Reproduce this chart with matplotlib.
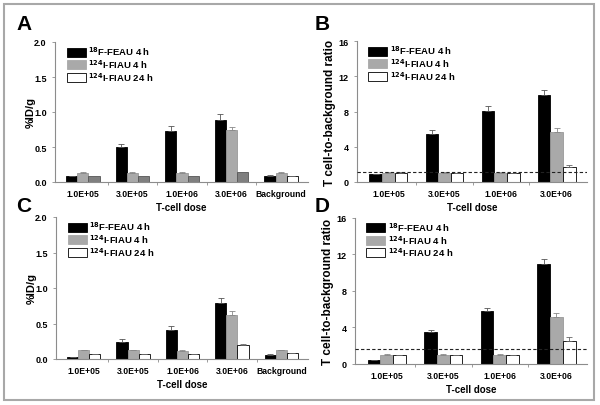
"""four-panel T-cell dose bar chart (%ID/g and T cell-to-background ratio)"""

import numpy as np
import matplotlib
matplotlib.use('Agg')
import matplotlib.pyplot as plt
from matplotlib.patches import Rectangle, Patch

plt.rcParams['font.family'] = ['Liberation Sans', 'DejaVu Sans']
plt.rcParams['font.weight'] = 'bold'
plt.rcParams['mathtext.default'] = 'bf'

doses = ['1.0E+05', '3.0E+05', '1.0E+06', '3.0E+06']
doses_bg = doses + ['Background']
series = [r'$^{18}$F-FEAU 4 h', r'$^{124}$I-FIAU 4 h', r'$^{124}$I-FIAU 24 h']

# panel A, %ID/g
a_feau = [0.08, 0.50, 0.73, 0.89, 0.085]
a_feau_err = [0.01, 0.05, 0.07, 0.08, 0.01]
a_fiau4 = [0.13, 0.13, 0.13, 0.74, 0.13]
a_fiau4_err = [0.01, 0.01, 0.01, 0.05, 0.01]
a_fiau24 = [0.08, 0.08, 0.08, 0.14, 0.08]
a_fiau24_err = [0.01, 0.01, 0.01, 0.01, 0.01]

# panel B, ratio
b_feau = [0.9, 5.5, 8.1, 9.85]
b_feau_err = [0.05, 0.38, 0.5, 0.55]
b_fiau4 = [1.05, 1.05, 1.05, 5.7]
b_fiau4_err = [0.05, 0.05, 0.05, 0.4]
b_fiau24 = [1.05, 1.0, 1.0, 1.75]
b_fiau24_err = [0.05, 0.05, 0.05, 0.15]
b_cutoff = 1.15

# panel C, %ID/g
c_feau = [0.025, 0.245, 0.41, 0.785, 0.06]
c_feau_err = [0.005, 0.035, 0.05, 0.075, 0.01]
c_fiau4 = [0.12, 0.12, 0.115, 0.62, 0.12]
c_fiau4_err = [0.01, 0.01, 0.01, 0.06, 0.01]
c_fiau24 = [0.07, 0.07, 0.07, 0.20, 0.08]
c_fiau24_err = [0.005, 0.005, 0.005, 0.01, 0.005]

# panel D, ratio
d_feau = [0.4, 3.5, 5.75, 10.9]
d_feau_err = [0.05, 0.25, 0.33, 0.6]
d_fiau4 = [1.0, 1.0, 1.0, 5.1]
d_fiau4_err = [0.08, 0.08, 0.08, 0.45]
d_fiau24 = [0.95, 0.95, 0.95, 2.5]
d_fiau24_err = [0.08, 0.08, 0.08, 0.4]
d_cutoff = 1.6

BLACK = '#000000'
GRAY = '#a9a9a9'
DARK = '#7f7f7f'
WHITE = '#ffffff'
AXIS_COLOR = '#8c8c8c'

W = 0.225


def draw_panel(ax, labels, vals, errs, colors24, ylim, yticks, yfmt, ylabel, cutoff=None):
    x = np.arange(len(labels))
    face = [[BLACK] * len(x), [GRAY] * len(x), colors24]
    edge = [[BLACK] * len(x), ['#999999'] * len(x),
            ['#000000' if c == WHITE else '#555555' for c in colors24]]
    ecol = ['#555555', '#888888', '#666666']
    for i in range(3):
        pos = x + (i - 1) * W
        ax.bar(pos, vals[i], W, color=face[i], edgecolor=edge[i], linewidth=0.6, zorder=2)
        ax.errorbar(pos, vals[i], yerr=[np.zeros(len(x)), errs[i]], fmt='none',
                    ecolor=ecol[i], elinewidth=0.6, capsize=2, capthick=0.6, zorder=3)
    ax.set_xlim(-0.56, len(x) - 0.46)
    ax.set_ylim(*ylim)
    ax.set_yticks(yticks)
    ax.set_yticklabels([yfmt.format(t) for t in yticks])
    ax.set_xticks(x)
    ax.set_xticklabels(labels)
    ax.set_xticks(np.arange(len(x) - 1) + 0.5, minor=True)
    ax.tick_params(axis='x', which='major', length=0, labelsize=6.2, pad=5)
    ax.tick_params(axis='x', which='minor', length=2, color=AXIS_COLOR, width=0.6)
    ax.tick_params(axis='y', length=2, color=AXIS_COLOR, width=0.6, labelsize=6.5, pad=4)
    for s in ['top', 'right']:
        ax.spines[s].set_visible(False)
    for s in ['left', 'bottom']:
        ax.spines[s].set_color(AXIS_COLOR)
        ax.spines[s].set_linewidth(0.8)
    ax.set_xlabel('T-cell dose', fontsize=7, fontweight='bold', labelpad=3)
    if 'ratio' in ylabel:
        ax.set_ylabel(ylabel, fontsize=8.5, fontweight='bold', labelpad=2)
    else:
        ax.set_ylabel(ylabel, fontsize=8, fontweight='bold', labelpad=-1)
    if cutoff is not None:
        ax.axhline(cutoff, color='#222222', linestyle=(0, (3, 2)), linewidth=0.8, zorder=4)
    handles = [Patch(facecolor=BLACK, edgecolor=BLACK, linewidth=0.6),
               Patch(facecolor=GRAY, edgecolor=GRAY, linewidth=0.6),
               Patch(facecolor=WHITE, edgecolor=BLACK, linewidth=0.6)]
    ax.legend(handles, series, loc='upper left', bbox_to_anchor=(0.035, 1.0), frameon=False,
              fontsize=6.8, handlelength=2.0, handleheight=1.1, handletextpad=0.3,
              labelspacing=0.0, borderaxespad=0.2, borderpad=0.1)


fig = plt.figure(figsize=(6.0, 4.06), dpi=100)
fig.patches.append(Rectangle((4 / 600, 5 / 406), 590 / 600, 396 / 406, transform=fig.transFigure,
                             fill=False, edgecolor='#a8a8a8', linewidth=1.5))


def px_axes(left, right, top, bottom):
    return fig.add_axes([left / 600, 1 - bottom / 406, (right - left) / 600, (bottom - top) / 406])


axA = px_axes(55, 308, 43, 183)
axB = px_axes(357, 587, 42, 183)
axC = px_axes(56, 308, 218, 360)
axD = px_axes(355, 587, 218.5, 365)

draw_panel(axA, doses_bg, [a_feau, a_fiau4, a_fiau24], [a_feau_err, a_fiau4_err, a_fiau24_err],
           [DARK, DARK, DARK, DARK, WHITE], (0, 2.0), [0, 0.5, 1.0, 1.5, 2.0], '{:.1f}', '%ID/g')
draw_panel(axB, doses, [b_feau, b_fiau4, b_fiau24], [b_feau_err, b_fiau4_err, b_fiau24_err],
           [WHITE] * 4, (0, 16), [0, 4, 8, 12, 16], '{:d}', 'T cell-to-background ratio', b_cutoff)
draw_panel(axC, doses_bg, [c_feau, c_fiau4, c_fiau24], [c_feau_err, c_fiau4_err, c_fiau24_err],
           [WHITE] * 5, (0, 2.0), [0, 0.5, 1.0, 1.5, 2.0], '{:.1f}', '%ID/g')
draw_panel(axD, doses, [d_feau, d_fiau4, d_fiau24], [d_feau_err, d_fiau4_err, d_fiau24_err],
           [WHITE] * 4, (0, 16), [0, 4, 8, 12, 16], '{:d}', 'T cell-to-background ratio', d_cutoff)

for letter, x, y in [('A', 16, 25), ('B', 315, 25), ('C', 16, 207), ('D', 315, 207)]:
    fig.text(x / 600, 1 - y / 406, letter, fontsize=15, fontweight='bold', va='center', ha='left')

fig.savefig('out.png', dpi=100)
